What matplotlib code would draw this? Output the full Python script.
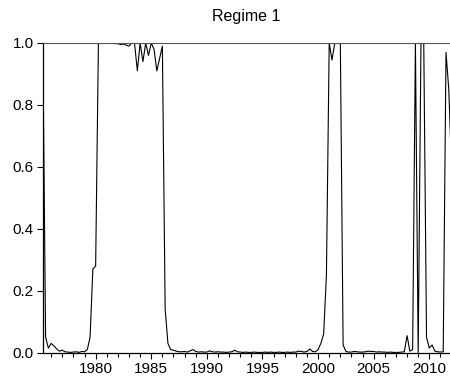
import numpy as np
import matplotlib
matplotlib.use("Agg")
import matplotlib.pyplot as plt
from matplotlib.ticker import MultipleLocator, FormatStrFormatter

plt.rcParams['font.family'] = ['Liberation Sans', 'DejaVu Sans']

# smoothed probability of regime 1, quarterly 1975Q2 - 2012Q1
start_year, start_q = 1975, 2
prob = [
    1.0, 0.05, 0.015,                 # 1975
    0.03, 0.022, 0.012, 0.005,        # 1976
    0.008, 0.003, 0.002, 0.001,       # 1977
    0.002, 0.003, 0.001, 0.004,       # 1978
    0.003, 0.01, 0.05, 0.27,          # 1979
    0.28, 1.0, 1.0, 1.0,              # 1980
    1.0, 1.0, 0.999, 0.998,           # 1981
    0.998, 0.995, 0.997, 0.993,       # 1982
    0.99, 1.0, 0.998, 0.91,           # 1983
    1.0, 0.94, 1.0, 0.96,             # 1984
    1.0, 0.98, 0.91, 0.95,            # 1985
    0.99, 0.14, 0.03, 0.01,           # 1986
    0.008, 0.005, 0.003, 0.003,       # 1987
    0.004, 0.002, 0.006, 0.01,        # 1988
    0.004, 0.002, 0.003, 0.002,       # 1989
    0.002, 0.006, 0.003, 0.002,       # 1990
    0.003, 0.002, 0.002, 0.001,       # 1991
    0.002, 0.003, 0.008, 0.003,       # 1992
    0.002, 0.001, 0.002, 0.001,       # 1993
    0.001, 0.002, 0.001, 0.001,       # 1994
    0.001, 0.002, 0.001, 0.002,       # 1995
    0.001, 0.001, 0.002, 0.001,       # 1996
    0.001, 0.002, 0.001, 0.002,       # 1997
    0.002, 0.005, 0.004, 0.002,       # 1998
    0.004, 0.012, 0.004, 0.003,       # 1999
    0.01, 0.03, 0.06, 0.25,           # 2000
    1.0, 0.945, 1.0, 1.0,             # 2001
    1.0, 0.025, 0.004, 0.002,         # 2002
    0.002, 0.004, 0.003, 0.002,       # 2003
    0.002, 0.003, 0.005, 0.004,       # 2004
    0.004, 0.002, 0.003, 0.002,       # 2005
    0.002, 0.001, 0.002, 0.001,       # 2006
    0.001, 0.001, 0.002, 0.003,       # 2007
    0.055, 0.005, 0.01, 1.0,          # 2008
    0.0, 1.0, 1.0, 0.05,              # 2009
    0.015, 0.025, 0.005, 0.003,       # 2010
    0.002, 0.003, 0.97, 0.85,         # 2011
    0.6,                              # 2012
]

quarters = np.arange(len(prob)) + (start_q - 1)
dates = start_year + quarters / 4.0

fig = plt.figure(figsize=(4.5, 3.83), dpi=100)
ax = fig.add_axes([42.7 / 450, 30.3 / 383, 1 - 42.7 / 450, 309.7 / 383])

ax.plot(dates, prob, color='black', linewidth=0.8)

ax.set_xlim(1975.24, 2011.86)
ax.set_ylim(0, 1)
ax.set_title("Regime 1", fontsize=11.5, pad=16)

ax.xaxis.set_major_locator(MultipleLocator(5))
ax.xaxis.set_minor_locator(MultipleLocator(1))
ax.yaxis.set_major_locator(MultipleLocator(0.2))
ax.yaxis.set_major_formatter(FormatStrFormatter('%.1f'))
ax.tick_params(axis='both', which='major', direction='out', length=4.5, width=0.8,
               labelsize=11, pad=2)
ax.tick_params(axis='x', which='minor', direction='out', length=3, width=0.8)

ax.spines['right'].set_visible(False)
ax.spines['top'].set_color('#555555')
ax.spines['left'].set_linewidth(0.9)
ax.spines['bottom'].set_linewidth(0.9)

plt.savefig("out.png", dpi=100)
